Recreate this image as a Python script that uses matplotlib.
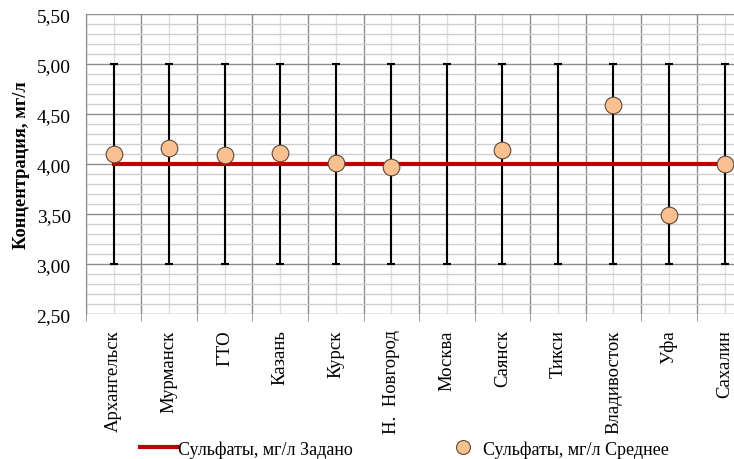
import numpy as np
import matplotlib.pyplot as plt
from matplotlib.ticker import MultipleLocator, FuncFormatter
from matplotlib.lines import Line2D

plt.rcParams['font.family'] = ['Liberation Serif', 'DejaVu Serif']

cities = ['Архангельск', 'Мурманск', 'ГТО', 'Казань', 'Курск', 'Н.  Новгород',
          'Москва', 'Саянск', 'Тикси', 'Владивосток', 'Уфа', 'Сахалин']
target = [4.0] * 12
target_err = [1.0] * 12
mean = [4.10, 4.16, 4.09, 4.11, 4.01, 3.97, np.nan, 4.14, np.nan, 4.59, 3.49, 4.00]

x = np.arange(len(cities))

fig = plt.figure(figsize=(7.34, 4.60), dpi=100)
ax = fig.add_axes([0.117, 0.315, 0.883, 0.652])

# grid: major/minor horizontals, category borders and centres
ax.set_ylim(2.5, 5.5)
ax.set_xlim(-0.5, 11.17)
ax.yaxis.set_major_locator(MultipleLocator(0.5))
ax.yaxis.set_minor_locator(MultipleLocator(0.1))
ax.set_xticks(x)
ax.set_xticks(x - 0.5, minor=True)
ax.grid(axis='y', which='major', color='#8c8c8c', lw=1)
ax.grid(axis='y', which='minor', color='#cfcfcf', lw=1)
ax.grid(axis='x', which='major', color='#dcdcdc', lw=1)
ax.grid(axis='x', which='minor', color='#8c8c8c', lw=1)
ax.set_axisbelow(True)

for s in ['top', 'right', 'bottom']:
    ax.spines[s].set_visible(False)
ax.spines['left'].set_color('#8c8c8c')

ax.tick_params(axis='y', which='both', length=0, labelsize=14, pad=11)
ax.tick_params(axis='x', which='major', length=0, labelsize=13.5, pad=11)
ax.tick_params(axis='x', which='minor', length=5, color='#8c8c8c')
ax.set_xticklabels(cities, rotation=90)
ax.yaxis.set_major_formatter(FuncFormatter(lambda v, p: f'{v:.2f}'.replace('.', ',')))
ax.set_ylabel('Концентрация, мг/л', fontsize=13.2, fontweight='bold', labelpad=5)

# target range
ax.errorbar(x, target, yerr=target_err, fmt='none', ecolor='black',
            elinewidth=1.5, capsize=3, capthick=1.5, zorder=3)
ax.plot(x, target, color='#c00000', lw=3, zorder=4)
ax.plot(x, mean, 'o', ms=12, mfc='#fac090', mec='#5a4a3a', mew=0.8, zorder=5)

handles = [Line2D([], [], color='#c00000', lw=3),
           Line2D([], [], ls='none', marker='o', ms=10, mfc='#fac090', mec='#5a4a3a', mew=0.8)]
fig.legend(handles, ['Сульфаты, мг/л Задано', 'Сульфаты, мг/л Среднее'],
           loc='center left', bbox_to_anchor=(0.191, 0.022), ncol=2, frameon=False,
           borderpad=0, borderaxespad=0,
           fontsize=13, handlelength=2.05, handletextpad=0.05, columnspacing=5.1)

fig.savefig('out.png', dpi=100)
